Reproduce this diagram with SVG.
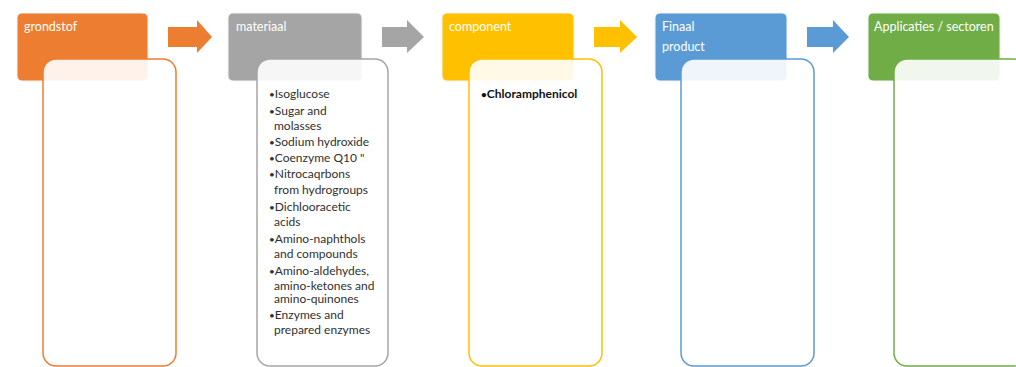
<svg xmlns="http://www.w3.org/2000/svg" width="1016" height="367" viewBox="0 0 1016 367">
<style>
.hdr{stroke:#f4f4f4;stroke-width:1}
.body{fill:#ffffff;fill-opacity:0.9;stroke-width:1.5}
.ht{font-family:Lato,"Liberation Sans",sans-serif;font-size:12.5px;fill:#ffffff}
.bt{font-family:Lato,"Liberation Sans",sans-serif;font-size:12px;fill:#303030}
.bb{font-family:Lato,"Liberation Sans",sans-serif;font-size:12px;font-weight:bold;fill:#111111}
.bu{font-size:10px}
</style>
<rect width="1016" height="367" fill="#ffffff"/>
<g id="connectors">
<polygon points="168,27 197,27 197,20 212,37 197,53 197,47 168,47" fill="#ED7D31"/>
<polygon points="382,27 407,27 407,20 424,37 407,53 407,47 382,47" fill="#A5A5A5"/>
<polygon points="594,27 620,27 620,20 637,37 620,53 620,47 594,47" fill="#FFC000"/>
<polygon points="807,27 833,27 833,20 849,37 833,53 833,47 807,47" fill="#5B9BD5"/>
</g>
<g id="grondstof">
<rect class="hdr" x="17" y="13" width="131" height="68" rx="5" fill="#ED7D31"/>
<text class="ht" x="24" y="31">grondstof</text>
<rect class="body" x="43" y="59" width="133" height="307" rx="13" stroke="#ED7D31"/>
</g>
<g id="materiaal">
<rect class="hdr" x="228" y="13" width="134" height="68" rx="5" fill="#A5A5A5"/>
<text class="ht" x="236" y="31">materiaal</text>
<rect class="body" x="257" y="59" width="131" height="307" rx="13" stroke="#A5A5A5"/>
<text class="bt" x="269" y="98"><tspan class="bu">•</tspan>Isoglucose</text>
<text class="bt" x="269" y="115"><tspan class="bu">•</tspan>Sugar and</text>
<text class="bt" x="274" y="130">molasses</text>
<text class="bt" x="269" y="146"><tspan class="bu">•</tspan>Sodium hydroxide</text>
<text class="bt" x="269" y="162"><tspan class="bu">•</tspan>Coenzyme Q10 "</text>
<text class="bt" x="269" y="178"><tspan class="bu">•</tspan>Nitrocaqrbons</text>
<text class="bt" x="274" y="194">from hydrogroups</text>
<text class="bt" x="269" y="211"><tspan class="bu">•</tspan>Dichlooracetic</text>
<text class="bt" x="274" y="226">acids</text>
<text class="bt" x="269" y="243"><tspan class="bu">•</tspan>Amino-naphthols</text>
<text class="bt" x="274" y="258">and compounds</text>
<text class="bt" x="269" y="275"><tspan class="bu">•</tspan>Amino-aldehydes,</text>
<text class="bt" x="274" y="290">amino-ketones and</text>
<text class="bt" x="274" y="303">amino-quinones</text>
<text class="bt" x="269" y="319"><tspan class="bu">•</tspan>Enzymes and</text>
<text class="bt" x="274" y="334">prepared enzymes</text>
</g>
<g id="component">
<rect class="hdr" x="442" y="13" width="132" height="68" rx="5" fill="#FFC000"/>
<text class="ht" x="449" y="31">component</text>
<rect class="body" x="469" y="59" width="133" height="307" rx="13" stroke="#FFC000"/>
<text class="bb" x="481" y="98"><tspan class="bu">•</tspan>Chloramphenicol</text>
</g>
<g id="finaal-product">
<rect class="hdr" x="655" y="13" width="132" height="68" rx="5" fill="#5B9BD5"/>
<text class="ht" x="662" y="31">Finaal</text>
<text class="ht" x="662" y="51">product</text>
<rect class="body" x="681" y="59" width="133" height="307" rx="13" stroke="#5B9BD5"/>
</g>
<g id="applicaties">
<rect class="hdr" x="868" y="13" width="132" height="68" rx="5" fill="#70AD47"/>
<text class="ht" x="874" y="31">Applicaties / sectoren</text>
<rect class="body" x="894" y="59" width="133" height="307" rx="13" stroke="#70AD47"/>
</g>
</svg>
